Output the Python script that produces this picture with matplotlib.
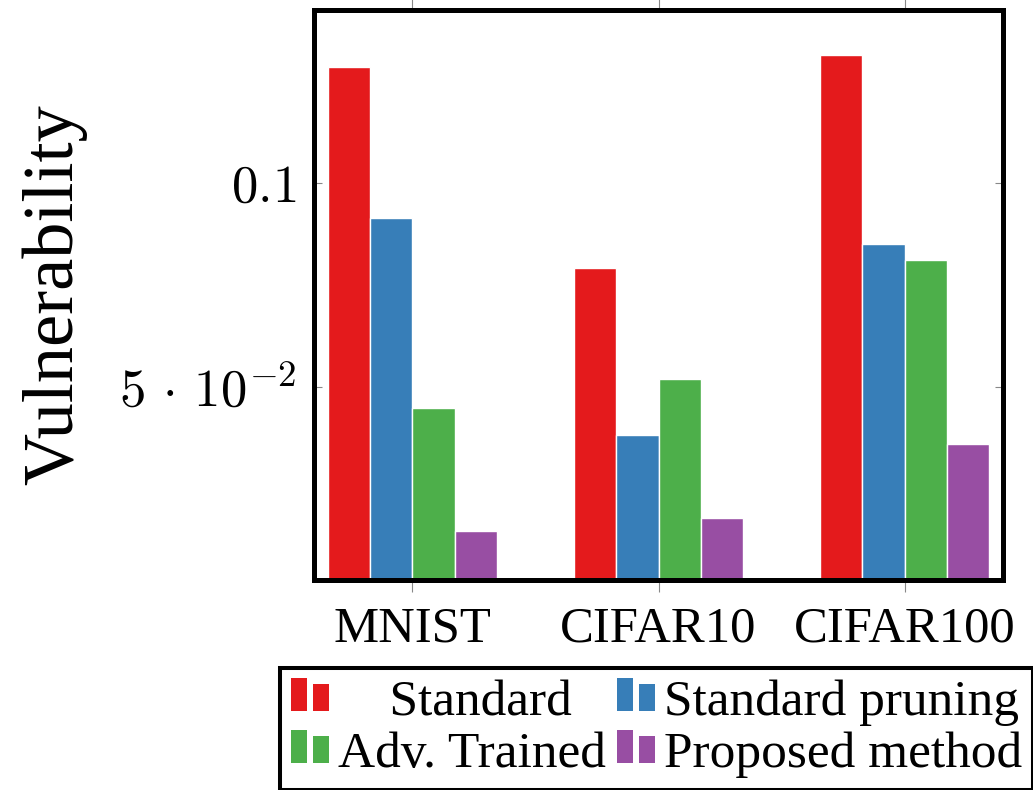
import matplotlib
matplotlib.use("Agg")
import matplotlib.pyplot as plt
from matplotlib.patches import Patch, Rectangle
from matplotlib.legend_handler import HandlerBase
import numpy as np

# ---- data ----
datasets = ["MNIST", "CIFAR10", "CIFAR100"]
methods = ["Standard", "Standard pruning", "Adv. Trained", "Proposed method"]
standard = [0.1284, 0.0792, 0.1314]
standard_pruning = [0.0914, 0.0382, 0.0850]
adv_trained = [0.0449, 0.0520, 0.0811]
proposed = [0.0147, 0.0179, 0.0360]
colors = ["#E41A1C", "#377EB8", "#4DAF4A", "#984EA3"]
ytick_vals = [0.05, 0.1]
ytick_labels = [r"$5\,\cdot\,10^{-2}$", r"$0.1$"]

series = [standard, standard_pruning, adv_trained, proposed]

plt.rcParams["mathtext.fontset"] = "cm"
plt.rcParams["font.family"] = ["Liberation Serif", "DejaVu Serif"]

W, H = 1033, 790
fig = plt.figure(figsize=(W / 100, H / 100), dpi=100)
ax = fig.add_axes([314 / W, 1 - 580 / H, 689 / W, 570 / H])

x = np.arange(len(datasets))
pitch = 0.172
for i, (vals, c) in enumerate(zip(series, colors)):
    ax.bar(x + (i - 1.5) * pitch, vals, width=pitch, color=c,
           edgecolor="white", linewidth=1.0, zorder=2)

ax.set_xlim(-0.4, 2.4)
ax.set_ylim(0.0027, 0.1424)

ax.set_xticks(x)
ax.set_xticklabels(datasets, fontsize=36.5)
ax.set_yticks(ytick_vals)
ax.set_yticklabels(ytick_labels, fontsize=38)

ax.tick_params(axis="x", direction="out", top=True, bottom=True,
               length=8.6, width=0.8, color="#888888", pad=10)
ax.tick_params(axis="y", direction="in", left=True, right=True,
               length=6, width=0.8, color="#888888", pad=13)

for s in ax.spines.values():
    s.set_linewidth(3.6)
    s.set_color("black")
    s.set_zorder(3)

fig.text(55 / W, 1 - 295 / H, "Vulnerability", rotation=90, fontsize=52,
         ha="center", va="center")


class TwoBar(HandlerBase):
    def create_artists(self, legend, orig_handle, xdescent, ydescent,
                       width, height, fontsize, trans):
        c = orig_handle.get_facecolor()
        bw = width * 16 / 38
        y0 = 0.08 * fontsize
        r1 = Rectangle((-xdescent, y0 - ydescent), bw, 0.65 * fontsize,
                       facecolor=c, edgecolor="none", transform=trans)
        r2 = Rectangle((-xdescent + width - bw, y0 - ydescent), bw,
                       0.53 * fontsize, facecolor=c, edgecolor="none",
                       transform=trans)
        return [r1, r2]


handles = [Patch(facecolor=c) for c in colors]
order = [0, 2, 1, 3]
labels = ["    " + methods[0], methods[2], methods[1], methods[3]]
leg = fig.legend([handles[k] for k in order], labels,
                 handler_map={Patch: TwoBar()},
                 loc="upper left", bbox_to_anchor=(280 / W, 1 - 668 / H),
                 bbox_transform=fig.transFigure, ncol=2, fontsize=37,
                 handlelength=0.74, handletextpad=0.17, columnspacing=0.22,
                 borderpad=0.22, labelspacing=0.1, borderaxespad=0,
                 fancybox=False, framealpha=1, edgecolor="black")
leg.get_frame().set_linewidth(2.9)

fig.savefig("out.png", dpi=100)
